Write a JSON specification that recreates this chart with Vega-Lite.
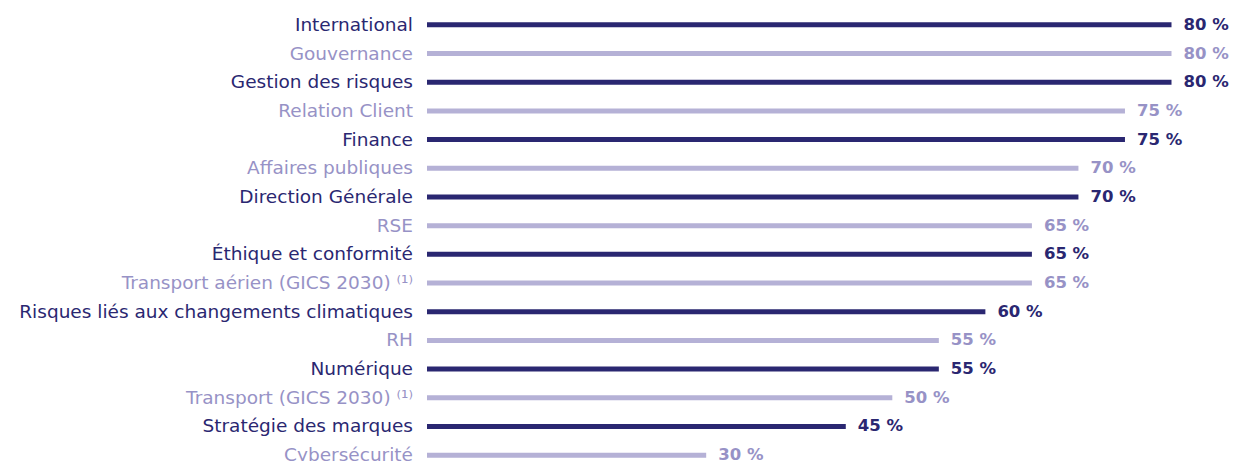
{
  "$schema": "https://vega.github.io/schema/vega-lite/v6.json",
  "autosize": "none",
  "width": 744.5,
  "height": 459,
  "padding": {"left": 427, "top": 10.5, "right": 61.5, "bottom": 0},
  "background": "white",
  "config": {"view": {"stroke": null}},
  "data": {"values": [
    {"order": 1, "label": "International", "value": 80, "tone": "dark"},
    {"order": 2, "label": "Gouvernance", "value": 80, "tone": "light"},
    {"order": 3, "label": "Gestion des risques", "value": 80, "tone": "dark"},
    {"order": 4, "label": "Relation Client", "value": 75, "tone": "light"},
    {"order": 5, "label": "Finance", "value": 75, "tone": "dark"},
    {"order": 6, "label": "Affaires publiques", "value": 70, "tone": "light"},
    {"order": 7, "label": "Direction Générale", "value": 70, "tone": "dark"},
    {"order": 8, "label": "RSE", "value": 65, "tone": "light"},
    {"order": 9, "label": "Éthique et conformité", "value": 65, "tone": "dark"},
    {"order": 10, "label": "Transport aérien (GICS 2030) ⁽¹⁾", "value": 65, "tone": "light"},
    {"order": 11, "label": "Risques liés aux changements climatiques", "value": 60, "tone": "dark"},
    {"order": 12, "label": "RH", "value": 55, "tone": "light"},
    {"order": 13, "label": "Numérique", "value": 55, "tone": "dark"},
    {"order": 14, "label": "Transport (GICS 2030) ⁽¹⁾", "value": 50, "tone": "light"},
    {"order": 15, "label": "Stratégie des marques", "value": 45, "tone": "dark"},
    {"order": 16, "label": "Cybersécurité", "value": 30, "tone": "light"}
  ]},
  "transform": [{"calculate": "datum.value + ' %'", "as": "pct"}],
  "encoding": {
    "y": {"field": "label", "type": "nominal", "sort": {"field": "order", "op": "min", "order": "ascending"}, "axis": null, "scale": {"paddingInner": 0, "paddingOuter": 0}}
  },
  "layer": [
    {
      "mark": {"type": "bar", "size": 5},
      "encoding": {
        "x": {"field": "value", "type": "quantitative", "scale": {"domain": [0, 80]}, "axis": null},
        "color": {"field": "tone", "type": "nominal", "scale": {"domain": ["dark", "light"], "range": ["#2a2771", "#b5b1d6"]}, "legend": null}
      }
    },
    {
      "mark": {"type": "text", "align": "right", "baseline": "middle", "dx": -14, "font": "DejaVu Sans", "fontSize": 18.5},
      "encoding": {
        "x": {"datum": 0, "type": "quantitative"},
        "text": {"field": "label"},
        "color": {"field": "tone", "type": "nominal", "scale": {"domain": ["dark", "light"], "range": ["#2a2771", "#9792c6"]}, "legend": null}
      }
    },
    {
      "mark": {"type": "text", "align": "left", "baseline": "middle", "dx": 12, "font": "DejaVu Sans", "fontSize": 16.5, "fontWeight": "bold"},
      "encoding": {
        "x": {"field": "value", "type": "quantitative"},
        "text": {"field": "pct"},
        "color": {"field": "tone", "type": "nominal", "scale": {"domain": ["dark", "light"], "range": ["#2a2771", "#9792c6"]}, "legend": null}
      }
    }
  ],
  "resolve": {"scale": {"color": "independent"}}
}
